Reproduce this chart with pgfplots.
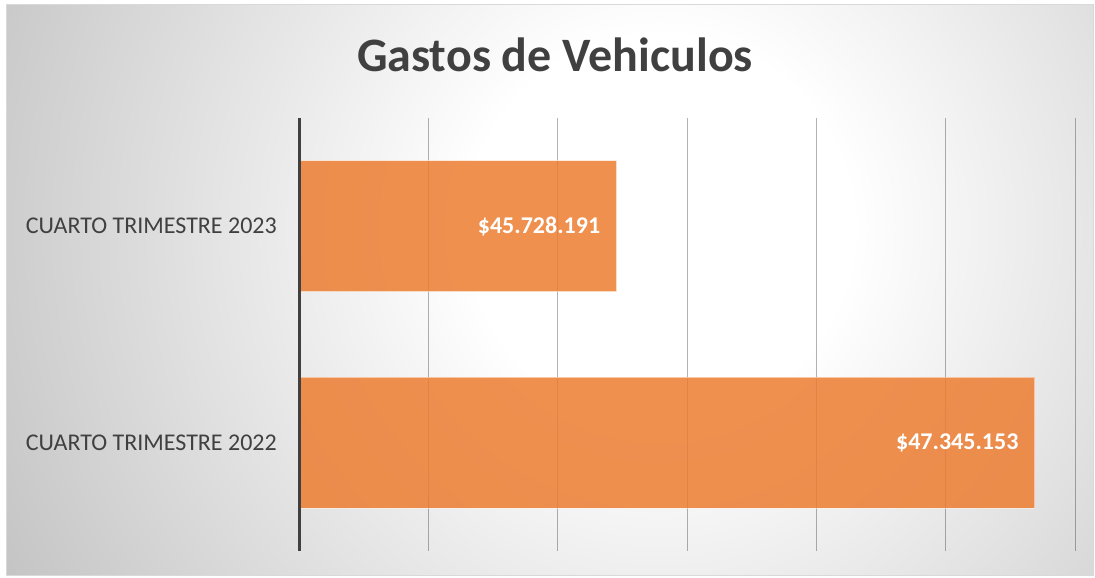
\documentclass[border=0pt]{standalone}
\usepackage{fontspec}
\setmainfont{Carlito}
\usepackage{pgfplots}
\pgfplotsset{compat=1.18}
\definecolor{barorange}{RGB}{237,125,49}
\definecolor{txtgray}{RGB}{64,64,64}
\definecolor{edgegray}{RGB}{190,190,190}
\pgfdeclareradialshading{bgshade}{\pgfpoint{0bp}{0bp}}{color(0bp)=(white); color(6bp)=(white); color(25bp)=(edgegray); color(50bp)=(edgegray)}
\begin{document}
\begin{tikzpicture}[x=1pt,y=1pt]
\path[use as bounding box, fill=white] (0,0) rectangle (1095,578);
\begin{scope}
\clip (6,2) rectangle (1093,573);
\shade[shading=bgshade] (660,350) circle (800);
\end{scope}
\draw[color=black!15, line width=1pt] (6,2) rectangle (1093,573);
\node[anchor=base, font=\fontsize{48}{58}\selectfont\bfseries, text=txtgray] at (555,506) {Gastos de Vehiculos};
\begin{axis}[name=ax, at={(299pt,27pt)}, anchor=south west, scale only axis,
  width=776pt, height=433pt,
  xbar, bar width=131pt,
  xmin=44500000, xmax=47500000, ymin=-0.5, ymax=1.5,
  scaled x ticks=false,
  xtick={44500000,45000000,45500000,46000000,46500000,47000000,47500000},
  xticklabels={},
  xmajorgrids, grid style={black, opacity=0.3, line width=1pt},
  ytick={0,1},
  yticklabels={CUARTO TRIMESTRE 2022, CUARTO TRIMESTRE 2023},
  major tick length=0pt,
  axis line style={draw=none},
  yticklabel style={font=\fontsize{24}{28}\selectfont, text=txtgray, inner sep=0pt, xshift=-22pt},
  nodes near coords, point meta=explicit symbolic,
  nodes near coords style={anchor=east, inner sep=0pt, xshift=-16pt, text opacity=1,
    font=\fontsize{24}{28}\selectfont\bfseries, text=white},
]
\addplot[fill=barorange, fill opacity=0.85, draw=white, draw opacity=0.5, line width=1pt]
  coordinates {(47345153,0) [\$47.345.153] (45728191,1) [\$45.728.191]};
\end{axis}
\draw[line width=3pt, color=txtgray] (ax.south west) -- (ax.north west);
\end{tikzpicture}
\end{document}
